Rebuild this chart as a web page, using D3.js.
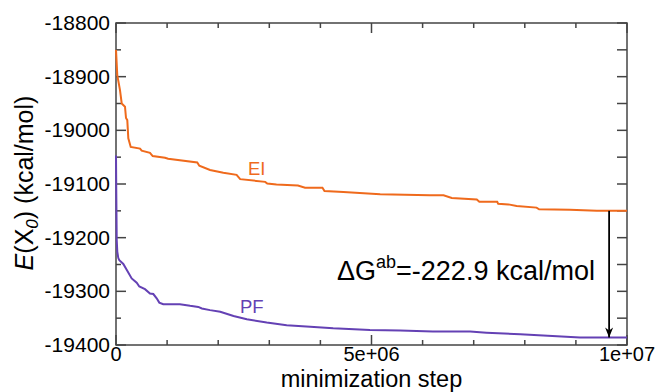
<!DOCTYPE html>
<html>
<head>
<meta charset="utf-8">
<script src="https://cdn.jsdelivr.net/npm/d3@7"></script>
<style>
  body { margin: 0; background: #fff; }
  text { font-family: "Liberation Sans", Arial, sans-serif; }
</style>
</head>
<body>
<div id="chart"></div>
<script>
// EI curve (minimization step, energy in kcal/mol)
var eiSteps = [0, 25e3, 78e3, 112e3, 176e3, 196e3, 221e3, 241e3, 288e3, 470e3, 503e3, 665e3, 718e3,
  959e3, 1.02e6, 1.59e6, 1.63e6, 1.84e6, 2.10e6, 2.36e6, 2.43e6, 2.92e6, 2.96e6, 3.14e6, 3.56e6,
  3.70e6, 4.04e6, 4.08e6, 4.45e6, 5.17e6, 6.14e6, 6.41e6, 6.57e6, 7.06e6, 7.11e6, 7.46e6, 7.48e6,
  7.68e6, 7.84e6, 8.23e6, 8.28e6, 8.88e6, 9.41e6, 1e7];
var eiEnergy = [-18850, -18897, -18925, -18950, -18956, -18977, -18981, -19015, -19031, -19034, -19038, -19042, -19048,
  -19051, -19053, -19060, -19066, -19074, -19079, -19083, -19091, -19096, -19099, -19101, -19103,
  -19107, -19107, -19113, -19115, -19119, -19121, -19121, -19126, -19129, -19133, -19133, -19137,
  -19138, -19141, -19144, -19147, -19148, -19150, -19150];

// PF curve
var pfSteps = [0, 5e3, 14e3, 25e3, 45e3, 65e3, 143e3, 209e3, 307e3, 405e3, 456e3, 567e3, 665e3, 730e3,
  796e3, 847e3, 925e3, 1.25e6, 1.45e6, 1.61e6, 1.68e6, 1.84e6, 2.04e6, 2.30e6, 2.56e6, 2.95e6,
  3.34e6, 3.80e6, 4.25e6, 4.97e6, 5.56e6, 6.20e6, 6.93e6, 7.25e6, 7.91e6, 9.08e6, 1e7];
var pfEnergy = [-19047, -19110, -19204, -19226, -19238, -19242, -19249, -19260, -19276, -19284, -19291, -19296, -19304, -19305,
  -19313, -19321, -19324, -19324, -19327, -19329, -19332, -19335, -19338, -19346, -19352, -19358,
  -19363, -19366, -19369, -19372, -19373, -19375, -19375, -19377, -19380, -19386, -19386];

var yTicks = [-18800, -18900, -19000, -19100, -19200, -19300, -19400];
var xTicks = [0, 5e6, 1e7];
var xTickLabels = ["0", "5e+06", "1e+07"];

// arrow between the two end values
var arrowStep = 9.65e6;
var arrowFrom = -19150, arrowTo = -19386;

var W = 657, H = 392;
var margin = {top: 23, right: 30, bottom: 47, left: 116},
    width = W - margin.left - margin.right,
    height = H - margin.top - margin.bottom;

var orange = "#ef6a1c", purple = "#6441b4", frame = "#444";

var x = d3.scaleLinear().domain([0, 1e7]).range([0, width]);
var y = d3.scaleLinear().domain([-19400, -18800]).range([height, 0]);

var svg = d3.select("#chart").append("svg")
    .attr("width", W)
    .attr("height", H);

var g = svg.append("g")
    .attr("transform", "translate(" + margin.left + "," + margin.top + ")");

//Minor ticks
var xMinor = d3.range(0, 1e7 + 1, 1e6),
    yMinor = d3.range(-19400, -18799, 50);

function tickLen(major) { return major ? 10 : 5; }

// bottom and top ticks
xMinor.forEach(function(v) {
  var major = xTicks.indexOf(v) >= 0;
  g.append("line").attr("x1", x(v)).attr("x2", x(v))
    .attr("y1", height).attr("y2", height - tickLen(major))
    .attr("stroke", frame).attr("stroke-width", 1.5);
  g.append("line").attr("x1", x(v)).attr("x2", x(v))
    .attr("y1", 0).attr("y2", tickLen(major))
    .attr("stroke", frame).attr("stroke-width", 1.5);
});

// left and right ticks
yMinor.forEach(function(v) {
  var major = yTicks.indexOf(v) >= 0;
  g.append("line").attr("x1", 0).attr("x2", tickLen(major))
    .attr("y1", y(v)).attr("y2", y(v))
    .attr("stroke", frame).attr("stroke-width", 1.5);
  g.append("line").attr("x1", width).attr("x2", width - 10)
    .attr("y1", y(v)).attr("y2", y(v))
    .attr("stroke", frame).attr("stroke-width", 1.5);
});

// frame
g.append("rect")
    .attr("width", width).attr("height", height)
    .attr("fill", "none").attr("stroke", frame).attr("stroke-width", 1.5);

// tick labels
g.selectAll(".ylab").data(yTicks).enter().append("text")
    .attr("x", -6).attr("y", function(d) { return y(d) + 7; })
    .attr("text-anchor", "end").attr("font-size", 21)
    .text(function(d) { return d; });

g.selectAll(".xlab").data(xTicks).enter().append("text")
    .attr("x", function(d) { return x(d); }).attr("y", height + 16)
    .attr("text-anchor", "middle").attr("font-size", 20)
    .text(function(d, i) { return xTickLabels[i]; });

// axis titles
g.append("text")
    .attr("x", width / 2).attr("y", height + 41.5)
    .attr("text-anchor", "middle").attr("font-size", 23.5)
    .text("minimization step");

var yl = svg.append("text")
    .attr("transform", "translate(33," + (margin.top + height / 2 - 1) + ") rotate(-90)")
    .attr("text-anchor", "middle").attr("font-size", 25);
yl.append("tspan").attr("font-style", "italic").text("E");
yl.append("tspan").text("(X");
yl.append("tspan").attr("font-style", "italic").attr("font-size", 17).attr("dy", 5).text("0");
yl.append("tspan").attr("dy", -5).text(") (kcal/mol)");

// lines
var line = d3.line()
    .x(function(d) { return x(d[0]); })
    .y(function(d) { return y(d[1]); });

g.append("path")
    .datum(d3.zip(eiSteps, eiEnergy))
    .attr("fill", "none").attr("stroke", orange).attr("stroke-width", 2)
    .attr("d", line);

g.append("path")
    .datum(d3.zip(pfSteps, pfEnergy))
    .attr("fill", "none").attr("stroke", purple).attr("stroke-width", 2)
    .attr("d", line);

// curve labels
g.append("text").attr("x", 248 - margin.left).attr("y", 175 - margin.top)
    .attr("font-size", 18.5).attr("fill", orange).text("EI");
g.append("text").attr("x", 240 - margin.left).attr("y", 313 - margin.top)
    .attr("font-size", 18.5).attr("fill", purple).text("PF");

// arrow
svg.append("defs").append("marker")
    .attr("id", "head").attr("viewBox", "0 0 10 10")
    .attr("refX", 10).attr("refY", 5)
    .attr("markerWidth", 10).attr("markerHeight", 10)
    .attr("markerUnits", "userSpaceOnUse")
    .attr("orient", "auto")
    .append("path").attr("d", "M0,1 L10,5 L0,9 L3,5 Z").attr("fill", "#000");

g.append("line")
    .attr("x1", x(arrowStep)).attr("x2", x(arrowStep))
    .attr("y1", y(arrowFrom)).attr("y2", y(arrowTo))
    .attr("stroke", "#000").attr("stroke-width", 1.8)
    .attr("marker-end", "url(#head)");

// annotation
var ann = g.append("text")
    .attr("x", 337 - margin.left).attr("y", 280 - margin.top)
    .attr("font-size", 27);
ann.append("tspan").text("\u0394G");
ann.append("tspan").attr("font-size", 18).attr("dy", -12).text("ab");
ann.append("tspan").attr("dy", 12).text("=-222.9 kcal/mol");
</script>
</body>
</html>
